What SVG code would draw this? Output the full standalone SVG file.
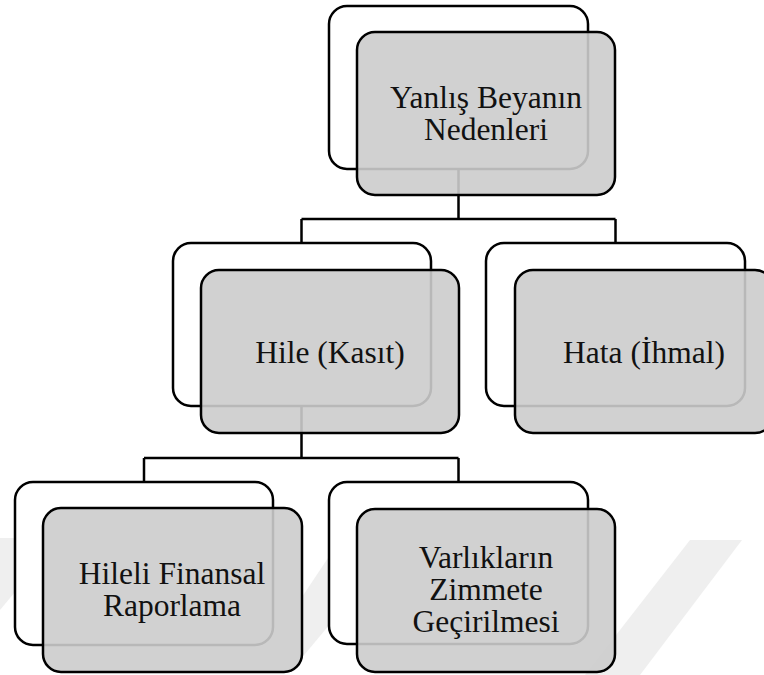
<svg xmlns="http://www.w3.org/2000/svg" width="764" height="675" viewBox="0 0 764 675">
  <style>
    .wm { fill: #efefef; stroke: none; }
    .conn { fill: none; stroke: #000; stroke-width: 2.5; }
    .back { fill: #ffffff; stroke: #000; stroke-width: 2.5; }
    .front { fill: #cccccc; fill-opacity: 0.9; stroke: #000; stroke-width: 2.5; }
    .lbl { font-size: 31.5px; fill: #111; text-anchor: middle; }
  </style>
  <rect x="0" y="0" width="764" height="675" fill="#ffffff"/>
  <g id="watermark">
    <polygon class="wm" points="0,538 60,538 0,610"/>
    <polygon class="wm" points="340,540 400,540 300,660 300,600"/>
    <polygon class="wm" points="690,540 742,540 640,675 585,675"/>
  </g>
  <g id="connectors">
    <path class="conn" d="M458.5,169 V219 M301.5,219 H615.5 M301.5,219 V243 M615.5,219 V243"/>
    <path class="conn" d="M301.5,406 V458 M144,458 H458.5 M144,458 V482 M458.5,458 V482"/>
  </g>
  <g font-family="Liberation Serif, serif">
  <g id="node-root">
    <rect class="back" x="329" y="6" width="259" height="163" rx="18"/>
    <rect class="front" x="357" y="32" width="258" height="163" rx="18"/>
    <text class="lbl" x="486" y="108">Yanlış Beyanın</text>
    <text class="lbl" x="486" y="140">Nedenleri</text>
  </g>
  <g id="node-hile">
    <rect class="back" x="173" y="243" width="258" height="163" rx="18"/>
    <rect class="front" x="201" y="270" width="258" height="163" rx="18"/>
    <text class="lbl" x="330" y="363">Hile (Kasıt)</text>
  </g>
  <g id="node-hata">
    <rect class="back" x="486" y="243" width="259" height="163" rx="18"/>
    <rect class="front" x="515" y="270" width="258" height="163" rx="18"/>
    <text class="lbl" x="644" y="363">Hata (İhmal)</text>
  </g>
  <g id="node-hileli">
    <rect class="back" x="15" y="482" width="258" height="163" rx="18"/>
    <rect class="front" x="43" y="508" width="259" height="164" rx="18"/>
    <text class="lbl" x="172" y="584">Hileli Finansal</text>
    <text class="lbl" x="172" y="616">Raporlama</text>
  </g>
  <g id="node-varlik">
    <rect class="back" x="329" y="482" width="259" height="162" rx="18"/>
    <rect class="front" x="357" y="509" width="258" height="163" rx="18"/>
    <text class="lbl" x="486" y="568">Varlıkların</text>
    <text class="lbl" x="486" y="600">Zimmete</text>
    <text class="lbl" x="486" y="632">Geçirilmesi</text>
  </g>
  </g>
</svg>
